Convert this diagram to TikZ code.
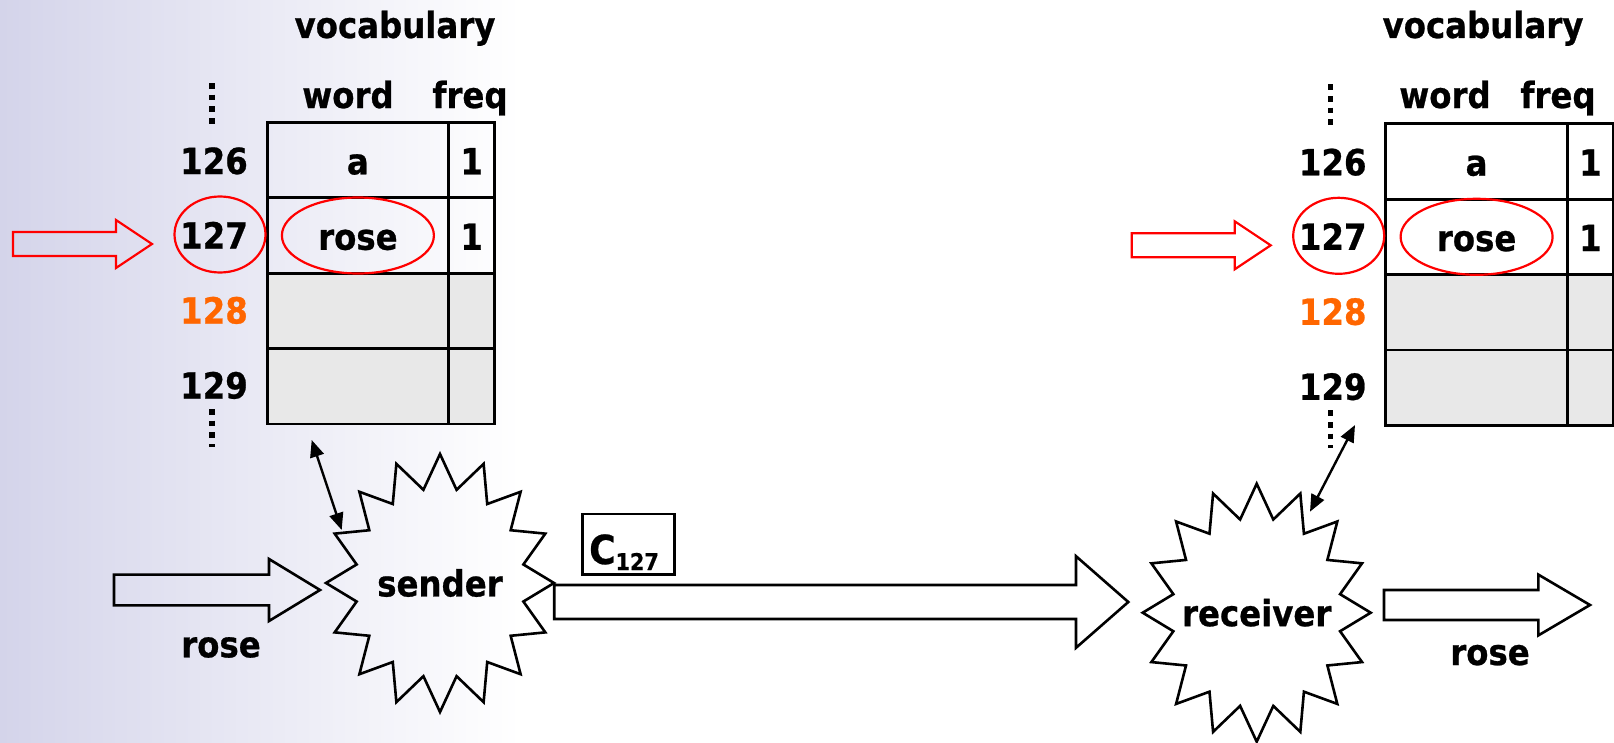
\documentclass[tikz,border=0pt]{standalone}
\usepackage{fontspec}
\setmainfont{DejaVu Sans Bold}[FakeStretch=0.9,FakeBold=0.7]
\usetikzlibrary{shapes.geometric,calc,arrows.meta}

\definecolor{lav}{RGB}{212,212,234}
\definecolor{rowgray}{RGB}{232,232,232}
\definecolor{idxorange}{RGB}{255,102,0}

% horizontal block arrow: [style]{start}{tip}{head length}{shaft half height}{head half height}
\newcommand\blockarrow[6][block]{%
  \draw[#1] let \p1=#2, \p2=#3 in
    (\x1,\y2+#5) -- (\x2-#4,\y2+#5) -- (\x2-#4,\y2+#6) -- (\x2,\y2)
    -- (\x2-#4,\y2-#6) -- (\x2-#4,\y2-#5) -- (\x1,\y2-#5) -- cycle;}

% sixteen-point star around a node
\newcommand\burstoutline[1]{%
  \draw[burstline] ([shift={(#1.center)}]90:114 and 129)
    \foreach \k in {0,...,15}{
      -- ([shift={(#1.center)}]{101.25+22.5*\k}:85 and 95)
      -- ([shift={(#1.center)}]{112.5+22.5*\k}:114 and 129)} -- cycle;}

% vocabulary table: {prefix}{table x shift}{table y shift}{heading x shift}{extra shift of "word"}
\newcommand\vocabtable[5]{%
  \begin{scope}[shift={(#4,0)}]
    \node[head] (#1-title) at (395,38) {vocabulary};
    \node[head] (#1-word) at (348+#5,108) {word};
    \node[head] (#1-freq) at (470,108) {freq};
  \end{scope}
  \begin{scope}[shift={(#2,#3)}]
    \node[wcell] (#1-w1) at (265.7,121) {a};
    \node[fcell] (#1-f1) at (447.3,121) {1};
    \node[wcell] (#1-w2) at (265.7,196.4) {rose};
    \node[fcell] (#1-f2) at (447.3,196.4) {1};
    \node[wcell,fill=rowgray] (#1-w3) at (265.7,271.8) {};
    \node[fcell,fill=rowgray] (#1-f3) at (447.3,271.8) {};
    \node[wcell,fill=rowgray] (#1-w4) at (265.7,347.2) {};
    \node[fcell,fill=rowgray] (#1-f4) at (447.3,347.2) {};
    \node[idx] (#1-n126) at (214,174) {126};
    \node[idx] (#1-n127) at (214,248.5) {127};
    \node[idx,text=idxorange] (#1-n128) at (214,323.5) {128};
    \node[idx] (#1-n129) at (214,398.5) {129};
    \draw[vdots] (212,83) -- (212,125);
    \draw[vdots] (212,409) -- (212,447);
    \node[ring,minimum width=91bp] (#1-ring127) at (220,234.5) {};
    \node[ring,minimum width=152bp] (#1-ringrose) at (#1-w2.center) {};
    \coordinate (#1-ptail) at (13,244);
    \coordinate (#1-ptip) at (152,244);
    \blockarrow[redarrow]{(#1-ptail)}{(#1-ptip)}{36bp}{12bp}{24bp}
  \end{scope}}

\begin{document}
\begin{tikzpicture}[x=1bp,y=-1bp,
  font=\fontsize{36bp}{40bp}\selectfont,
  head/.style={anchor=base,inner sep=0pt},
  idx/.style={anchor=base,inner sep=0pt},
  cellbase/.style={draw,line width=2.8bp,anchor=north west,inner sep=0pt,
    minimum height=75.4bp,text height=28.5bp,text depth=0pt},
  wcell/.style={cellbase,minimum width=181.6bp},
  fcell/.style={cellbase,minimum width=46bp},
  vdots/.style={line width=5.5bp,dash pattern=on 5.7bp off 6bp},
  ring/.style={ellipse,draw=red,line width=2.2bp,minimum height=76bp,inner sep=0pt},
  redarrow/.style={draw=red,line width=2.2bp},
  block/.style={draw=black,line width=2.6bp,line join=miter},
  burst/.style={ellipse,minimum width=228bp,minimum height=258bp,inner sep=0pt},
  burstline/.style={draw=black,line width=2.6bp,line join=miter},
  codebox/.style={draw,line width=2.6bp,minimum width=91.6bp,minimum height=60.3bp,inner sep=0pt},
  link/.style={line width=2.4bp,{Triangle[length=17bp,width=14bp]}-{Triangle[length=17bp,width=14bp]}}]

\useasboundingbox (0,0) rectangle (1614,743);
\fill[white] (0,0) rectangle (1614,743);
\shade[left color=lav,right color=white] (0,0) rectangle (520,743);

% the two vocabularies
\vocabtable{lv}{0}{0}{0}{0}
\vocabtable{rv}{1118.7}{1.3}{1088}{9}

% sender and receiver
\node[burst] (sender) at (440,583) {sender};
\burstoutline{sender}
\node[burst] (receiver) at (1256.7,612.7) {receiver};
\burstoutline{receiver}

% lookups between coders and vocabularies
\coordinate (lv-foot) at (311.7,440);
\coordinate (sender-top) at (341.7,530);
\coordinate (rv-foot) at (1355,425);
\coordinate (receiver-top) at (1310,511.7);
\draw[link] (lv-foot) -- (sender-top);
\draw[link] (rv-foot) -- (receiver-top);

% data flow
\coordinate (in-tail) at (114,590);
\coordinate (in-tip) at (320,590);
\blockarrow{(in-tail)}{(in-tip)}{51bp}{15.4bp}{31bp}
\node[head] (in-word) at (221,657.3) {rose};

\coordinate (code-tip) at (1128.3,602);
\blockarrow{(sender.east)}{(code-tip)}{52.3bp}{17bp}{45.8bp}

\coordinate (out-tail) at (1384,605);
\coordinate (out-tip) at (1590,605);
\blockarrow{(out-tail)}{(out-tip)}{51.7bp}{15bp}{30.4bp}
\node[head] (out-word) at (1490,665) {rose};

% transmitted code
\node[codebox] (code) at (628.5,544.2) {};
\node[anchor=base west,inner sep=0pt] (code-label) at (589,564)
  {\fontsize{40bp}{40bp}\selectfont C\raisebox{-6bp}{\fontsize{23bp}{23bp}\selectfont 127}};
\end{tikzpicture}
\end{document}
